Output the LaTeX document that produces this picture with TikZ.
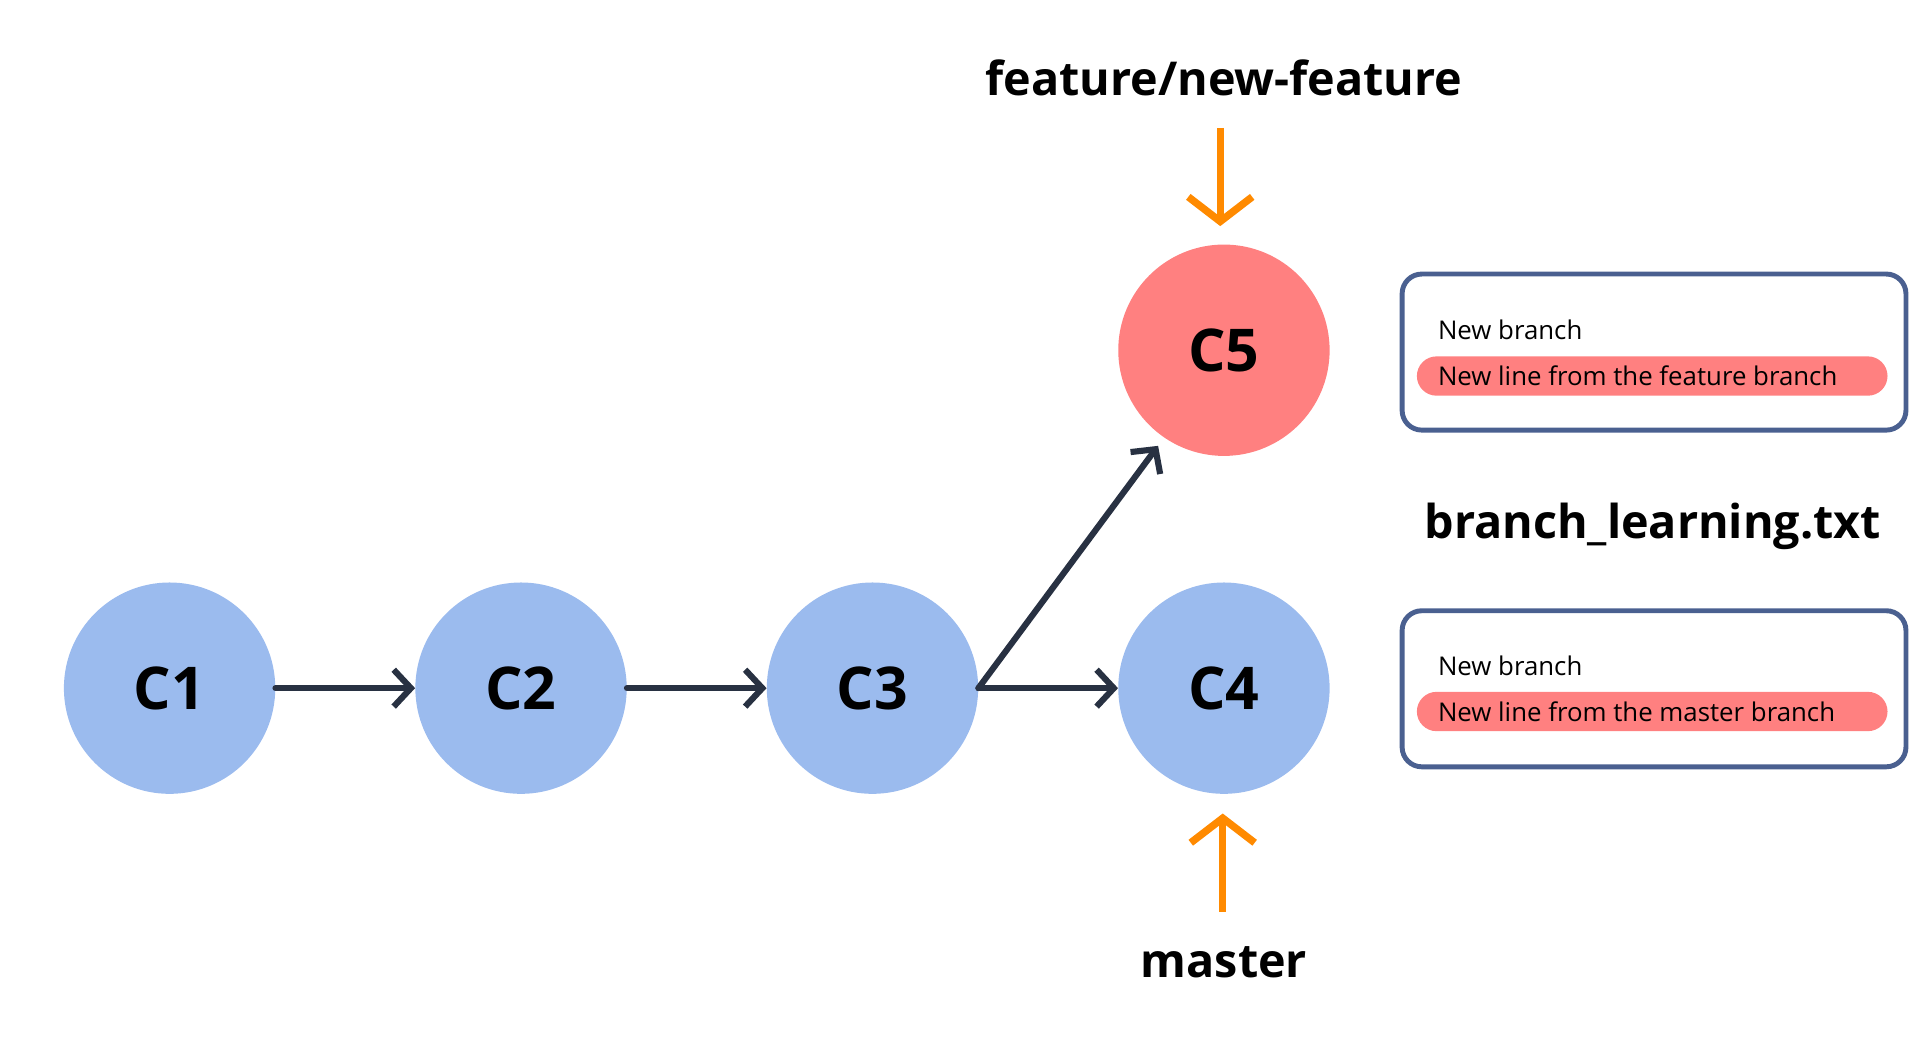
\documentclass[tikz,border=0pt]{standalone}
\usepackage{fontspec}
\setmainfont{Open Sans}
\usetikzlibrary{arrows.meta}
\definecolor{cblue}{HTML}{9BBBEE}
\definecolor{cred}{HTML}{FF8080}
\definecolor{dark}{HTML}{283142}
\definecolor{org}{HTML}{FF8A00}
\definecolor{boxc}{HTML}{4A6090}
\begin{document}
\begin{tikzpicture}[x=1pt,y=-1pt,
 commit/.style={circle,minimum size=172pt,inner sep=0pt,font=\fontsize{48}{56}\selectfont\bfseries},
 con/.style={draw=dark,line width=5pt,line cap=round,-{Straight Barb[length=14pt,width=30pt,line width=5pt]}},
 ptr/.style={draw=org,line width=6pt,-{Straight Barb[length=20pt,width=52pt,line width=6pt]}},
 lbl/.style={font=\fontsize{38}{46}\selectfont\bfseries},
 filebox/.style={draw=boxc,line width=4pt,rounded corners=16pt},
 small/.style={font=\fontsize{21}{26}\selectfont,anchor=west,inner sep=0pt},
 pill/.style={fill=cred,rounded corners=16pt}]
\useasboundingbox (0,0) rectangle (1560,852);
\node[commit,fill=cblue] (c1) at (138,560) {C1};
\node[commit,fill=cblue] (c2) at (424,560) {C2};
\node[commit,fill=cblue] (c3) at (710,560) {C3};
\node[commit,fill=cblue] (c4) at (996,560) {C4};
\node[commit,fill=cred] (c5) at (996,285) {C5};
\draw[con] (c1) -- (c2);
\draw[con] (c2) -- (c3);
\draw[con] (c3.east) -- (c4.west);
\draw[con,shorten >=6pt] (c3.east) -- (946,358);
\node[lbl] (fn) at (996,63) {feature/new-feature};
\node[lbl] (ms) at (996,783) {master};
\coordinate (ft) at (993,104);
\coordinate (fh) at (993,184);
\coordinate (mt) at (995,742);
\coordinate (mh) at (995,662);
\draw[ptr] (ft) -- (fh);
\draw[ptr] (mt) -- (mh);
\node[lbl] (fname) at (1345,428) {branch\_learning.txt};
\draw[filebox] (1141,223) rectangle (1551,350);
\fill[pill] (1153,290) rectangle (1536,322);
\node[small] (t1) at (1170,268) {New branch};
\node[small] (t2) at (1170,306) {New line from the feature branch};
\draw[filebox] (1141,497) rectangle (1551,624);
\fill[pill] (1153,563) rectangle (1536,595);
\node[small] (t3) at (1170,542) {New branch};
\node[small] (t4) at (1170,579) {New line from the master branch};
\end{tikzpicture}
\end{document}
